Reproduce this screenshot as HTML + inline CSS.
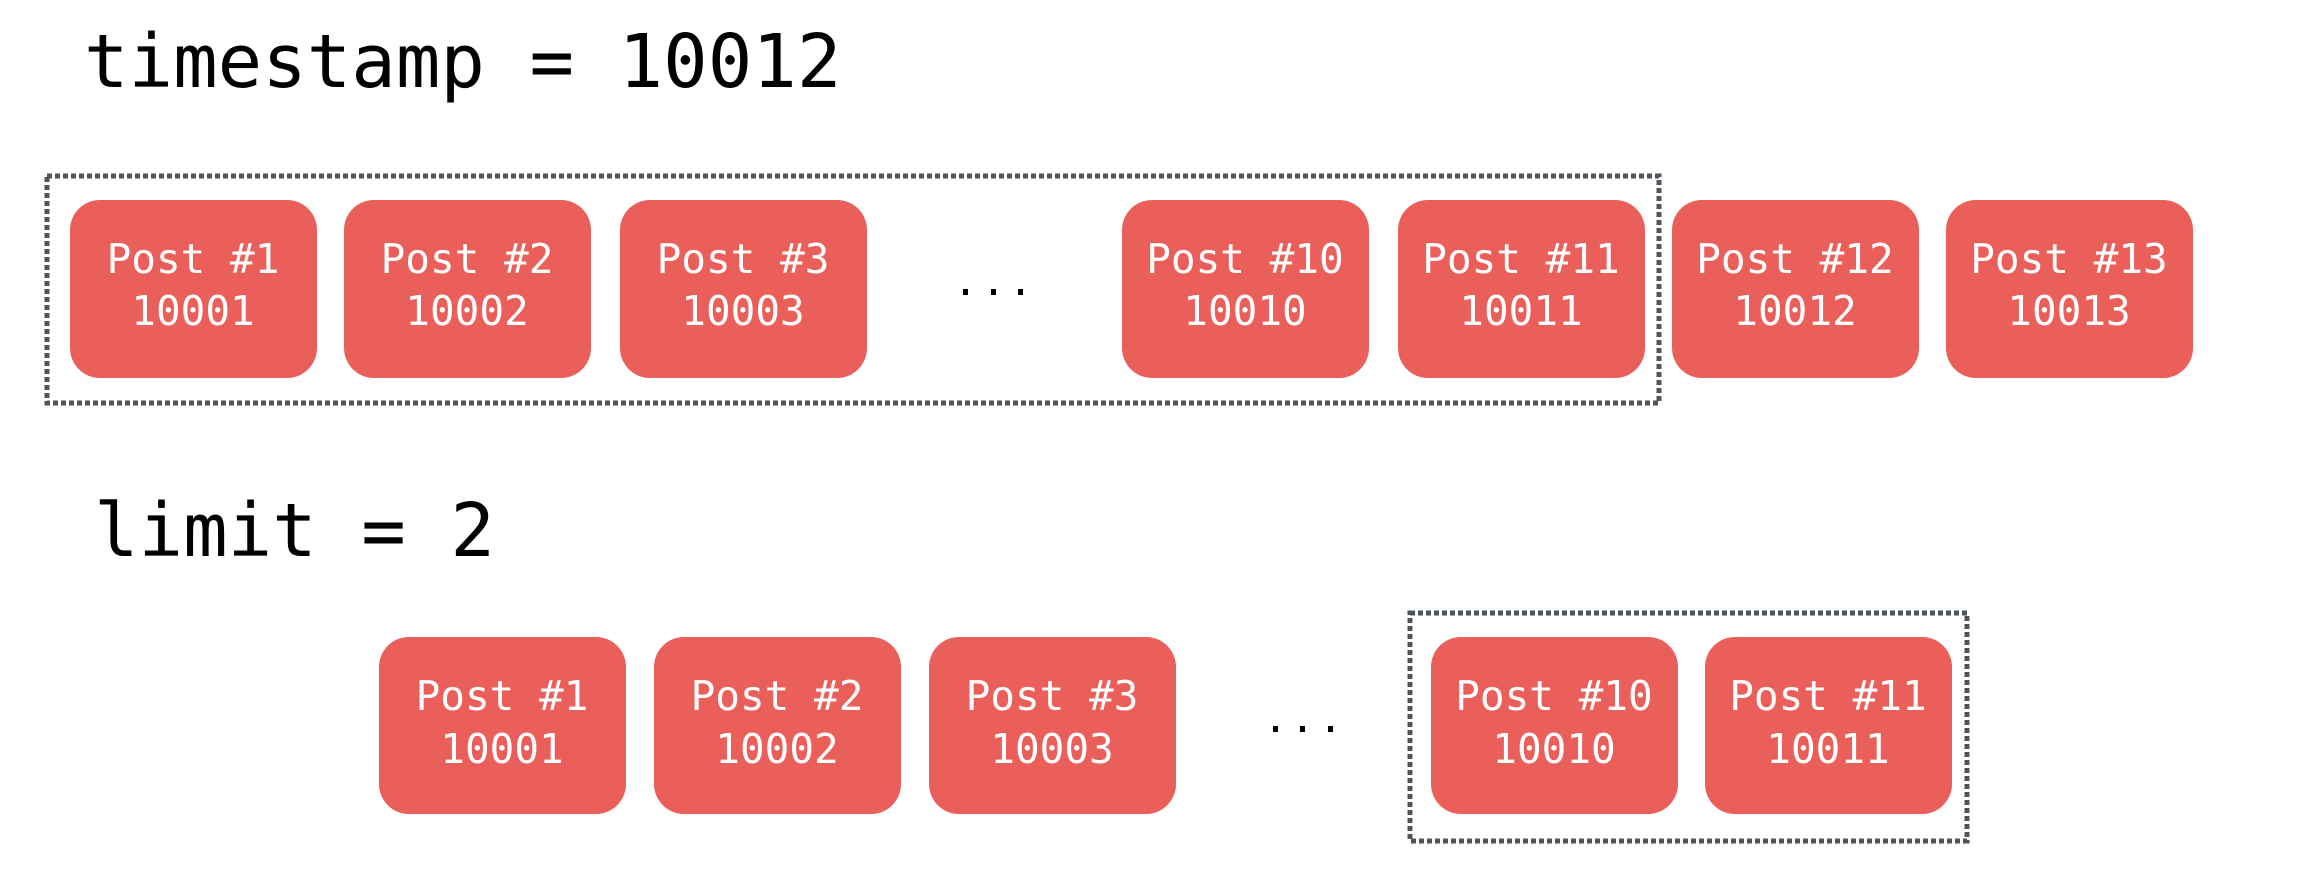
<!DOCTYPE html>
<html><head><meta charset="utf-8"><style>
html,body{margin:0;padding:0;background:#fff;}
svg{display:block}
.t{font-family:"DejaVu Sans Mono","Liberation Mono",monospace;}
</style></head><body>
<svg width="2314" height="876" viewBox="0 0 2314 876" xmlns="http://www.w3.org/2000/svg">
<g class="t">
<text x="84" y="87" font-size="74" fill="#000">timestamp = 10012</text>
<text x="94" y="556" font-size="74" fill="#000">limit = 2</text>
</g>
<rect x="47" y="176" width="1612" height="227" fill="none" stroke="#4f545a" stroke-width="5" stroke-dasharray="5 3"/>
<rect x="1410" y="613" width="557" height="228" fill="none" stroke="#4f545a" stroke-width="5" stroke-dasharray="5 3"/>
<g fill="#ea5f59">
<rect x="70" y="200" width="247" height="178" rx="30"/>
<rect x="344" y="200" width="247" height="178" rx="30"/>
<rect x="620" y="200" width="247" height="178" rx="30"/>
<rect x="1122" y="200" width="247" height="178" rx="30"/>
<rect x="1398" y="200" width="247" height="178" rx="30"/>
<rect x="1672" y="200" width="247" height="178" rx="30"/>
<rect x="1946" y="200" width="247" height="178" rx="30"/>
<rect x="379" y="637" width="247" height="177" rx="30"/>
<rect x="654" y="637" width="247" height="177" rx="30"/>
<rect x="929" y="637" width="247" height="177" rx="30"/>
<rect x="1431" y="637" width="247" height="177" rx="30"/>
<rect x="1705" y="637" width="247" height="177" rx="30"/>
</g>
<g class="t" fill="#fff" font-size="41" text-anchor="middle">
<text x="193" y="273">Post #1</text><text x="193" y="325">10001</text>
<text x="467" y="273">Post #2</text><text x="467" y="325">10002</text>
<text x="743" y="273">Post #3</text><text x="743" y="325">10003</text>
<text x="1245" y="273">Post #10</text><text x="1245" y="325">10010</text>
<text x="1521" y="273">Post #11</text><text x="1521" y="325">10011</text>
<text x="1795" y="273">Post #12</text><text x="1795" y="325">10012</text>
<text x="2069" y="273">Post #13</text><text x="2069" y="325">10013</text>
<text x="502" y="710">Post #1</text><text x="502" y="763">10001</text>
<text x="777" y="710">Post #2</text><text x="777" y="763">10002</text>
<text x="1052" y="710">Post #3</text><text x="1052" y="763">10003</text>
<text x="1554" y="710">Post #10</text><text x="1554" y="763">10010</text>
<text x="1828" y="710">Post #11</text><text x="1828" y="763">10011</text>
</g>
<g fill="#000">
<rect x="963" y="289" width="5" height="6"/><rect x="991" y="289" width="5" height="6"/><rect x="1018" y="289" width="5" height="6"/>
<rect x="1273" y="726" width="5" height="6"/><rect x="1300" y="726" width="5" height="6"/><rect x="1328" y="726" width="5" height="6"/>
</g>
</svg>
</body></html>
